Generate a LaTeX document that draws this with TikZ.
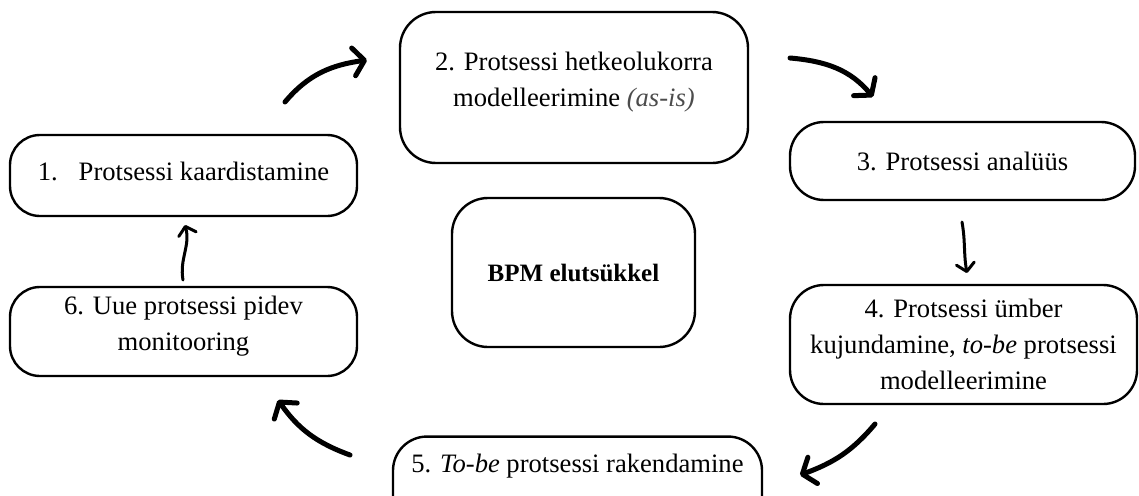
\documentclass[tikz,border=0pt]{standalone}
\usepackage{fontspec}
\setmainfont{Liberation Serif}
\usetikzlibrary{arrows.meta}
% extra depth under the last line, so the lines sit a little above the middle
\newcommand\sinkby[1]{\rule[-#1]{0pt}{0pt}}
\begin{document}
\begin{tikzpicture}[x=1pt,y=1pt,
  stage/.style={draw=black, line width=2.4pt, rounded corners=30pt, align=center,
    inner sep=0pt, font=\fontsize{26.6}{36}\selectfont},
  core/.style={stage, rounded corners=36pt, font=\fontsize{25}{30}\selectfont\bfseries},
  bigarrow/.style={line width=5pt, line cap=round,
    -{Straight Barb[round,length=11pt,width=28pt]}},
  smallarrow/.style={line width=3pt, line cap=round,
    -{Straight Barb[round,length=8pt,width=18pt]}},
]
\useasboundingbox (0,0) rectangle (1139,-495);
\fill[white] (0,0) rectangle (1139,-495);
\begin{scope}
\clip (0,0) rectangle (1139,-495);

% stages of the cycle
\node[stage, minimum width=347pt, minimum height=81pt] (s1) at (183.5,-175.5)
  {1.\hspace{21pt}Protsessi kaardistamine\sinkby{8pt}};
\node[stage, rounded corners=36pt, minimum width=348pt, minimum height=151pt] (s2) at (574,-87.5)
  {2. Protsessi hetkeolukorra\\modelleerimine \textcolor{black!70}{\textit{(as-is)}}\sinkby{16pt}};
\node[stage, rounded corners=34pt, minimum width=345pt, minimum height=78pt] (s3) at (962.5,-161)
  {3. Protsessi analüüs};
\node[stage, rounded corners=34pt, minimum width=347pt, minimum height=119pt] (s4) at (963.5,-344.5)
  {4. Protsessi ümber\\kujundamine, \textit{to-be} protsessi\\modelleerimine};
\node[stage, rounded corners=34pt, anchor=base, text depth=45pt, inner ysep=17pt,
  minimum width=369pt] (s5) at (577.5,-472)
  {5. \textit{To-be} protsessi rakendamine};
\node[stage, minimum width=347pt, minimum height=89pt] (s6) at (183.5,-331.5)
  {6. Uue protsessi pidev\\monitooring\sinkby{16pt}};

% centre
\node[core, minimum width=243pt, minimum height=149pt] (bpm) at (573.5,-272.5)
  {BPM elutsükkel};

% free ends of the arrows between the stages
\coordinate (a1s) at (285,-102);  \coordinate (a1e) at (367,-60);
\coordinate (a2s) at (790,-58);   \coordinate (a2e) at (873,-97);
\coordinate (a3s) at (962,-222);  \coordinate (a3e) at (967,-273);
\coordinate (a4s) at (875,-424);  \coordinate (a4e) at (800,-475);
\coordinate (a5s) at (350,-455);  \coordinate (a5e) at (278,-400);
\coordinate (a6s) at (183,-280);  \coordinate (a6e) at (185,-225);

\draw[bigarrow] (a1s) to[out=50,in=188] (a1e);
\draw[bigarrow] (a2s) to[out=-5,in=130] (a2e);
\draw[smallarrow] (a3s) to[out=-80,in=100] (a3e);
\draw[bigarrow] (a4s) to[out=-130,in=20] (a4e);
\draw[bigarrow] (a5s) to[out=160,in=-55] (a5e);
\draw[smallarrow] (a6s) to[out=100,in=-75] (a6e);
\end{scope}
\end{tikzpicture}
\end{document}
